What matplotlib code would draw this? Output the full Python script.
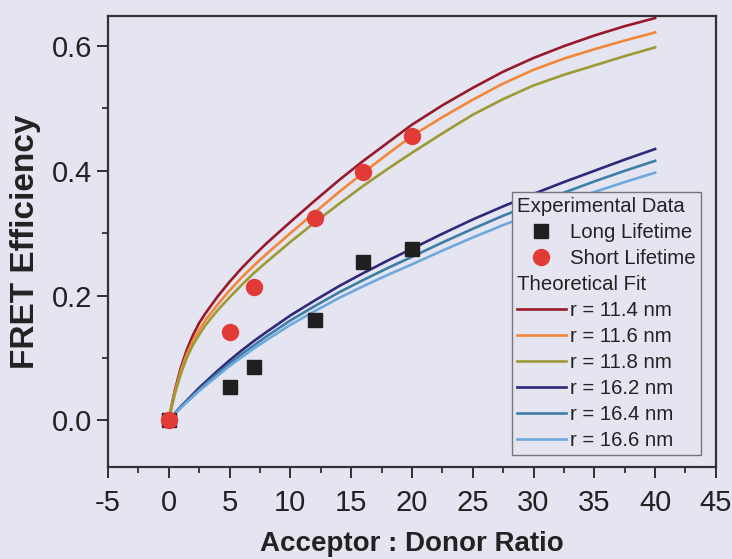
import numpy as np
from matplotlib import pyplot as plt
from matplotlib.lines import Line2D
from matplotlib.ticker import MultipleLocator

plt.rcParams['font.family'] = ['Liberation Sans', 'DejaVu Sans']
plt.rcParams['axes.unicode_minus'] = False

# experimental points
ratio_exp = [0, 5, 7, 12, 16, 20]
long_life = [0.0, 0.053, 0.086, 0.160, 0.253, 0.275]
short_life = [0.0, 0.141, 0.213, 0.325, 0.398, 0.456]

# theoretical fits
ratio_fit = [0, 0.25, 0.5, 1, 1.5, 2, 2.5, 3, 4, 5, 6, 7, 8, 10, 12, 14, 16, 18, 20,
             22.5, 25, 27.5, 30, 32.5, 35, 37.5, 40]
fit_114 = [0.0, 0.025, 0.048, 0.085, 0.114, 0.137, 0.156, 0.171, 0.198, 0.222, 0.244, 0.264, 0.283,
           0.318, 0.352, 0.385, 0.416, 0.445, 0.474, 0.505, 0.533, 0.559, 0.581, 0.600, 0.617, 0.632, 0.645]
fit_116 = [0.0, 0.023, 0.045, 0.080, 0.107, 0.128, 0.145, 0.160, 0.185, 0.208, 0.229, 0.248, 0.266,
           0.300, 0.333, 0.366, 0.397, 0.427, 0.456, 0.486, 0.514, 0.540, 0.562, 0.580, 0.595, 0.609, 0.622]
fit_118 = [0.0, 0.022, 0.042, 0.075, 0.101, 0.121, 0.137, 0.152, 0.176, 0.197, 0.217, 0.236, 0.253,
           0.286, 0.317, 0.347, 0.376, 0.403, 0.429, 0.460, 0.490, 0.515, 0.537, 0.554, 0.569, 0.584, 0.598]
fit_162 = [0.0, 0.006, 0.011, 0.022, 0.032, 0.042, 0.052, 0.061, 0.079, 0.096, 0.112, 0.127, 0.141,
           0.168, 0.192, 0.215, 0.236, 0.256, 0.275, 0.299, 0.322, 0.343, 0.363, 0.382, 0.400, 0.418, 0.435]
fit_164 = [0.0, 0.006, 0.011, 0.021, 0.031, 0.040, 0.049, 0.058, 0.075, 0.091, 0.106, 0.120, 0.134,
           0.160, 0.183, 0.205, 0.225, 0.244, 0.262, 0.285, 0.307, 0.328, 0.347, 0.365, 0.383, 0.400, 0.416]
fit_166 = [0.0, 0.005, 0.010, 0.020, 0.029, 0.038, 0.047, 0.055, 0.071, 0.087, 0.101, 0.115, 0.128,
           0.153, 0.175, 0.196, 0.215, 0.233, 0.250, 0.272, 0.293, 0.313, 0.331, 0.349, 0.366, 0.382, 0.397]

fits = [
    (fit_114, 'r = 11.4 nm', '#97192b'),
    (fit_116, 'r = 11.6 nm', '#f2873a'),
    (fit_118, 'r = 11.8 nm', '#9c9a35'),
    (fit_162, 'r = 16.2 nm', '#30287a'),
    (fit_164, 'r = 16.4 nm', '#3d7ea6'),
    (fit_166, 'r = 16.6 nm', '#6fa8dc'),
]

bg = '#e5e5f1'
fig = plt.figure(figsize=(7.32, 5.59), dpi=100, facecolor=bg)
ax = fig.add_axes([0.1475, 0.1646, 0.8305, 0.8064], facecolor=bg)

fit_lines = []
for ys, lab, col in fits:
    ln, = ax.plot(ratio_fit, ys, color=col, lw=1.9, label=lab, zorder=2)
    fit_lines.append(ln)

sq, = ax.plot(ratio_exp, long_life, 's', color='#202020', ms=10, ls='none', label='Long Lifetime', zorder=3)
ci, = ax.plot(ratio_exp, short_life, 'o', color='#e23a36', ms=11.5, ls='none', label='Short Lifetime', zorder=4)

ax.set_xlim(-5, 45)
ax.set_ylim(-0.075, 0.648)
ax.xaxis.set_major_locator(MultipleLocator(5))
ax.xaxis.set_minor_locator(MultipleLocator(2.5))
ax.yaxis.set_major_locator(MultipleLocator(0.2))
ax.yaxis.set_minor_locator(MultipleLocator(0.1))
ax.yaxis.set_major_formatter(plt.FormatStrFormatter('%.1f'))
ax.tick_params(which='major', direction='out', length=8, width=1.3, labelsize=21, colors='#222222')
ax.tick_params(which='minor', direction='out', length=4, width=1.2, colors='#222222')
ax.tick_params(axis='x', pad=8)
for s in ax.spines.values():
    s.set_linewidth(1.6)
    s.set_color('#333333')

ax.set_xlabel('Acceptor : Donor Ratio', fontsize=20, fontweight='bold', color='#222222', labelpad=10)
ax.set_ylabel('FRET Efficiency', fontsize=24, fontweight='bold', color='#222222', labelpad=8)

head1 = Line2D([], [], ls='none')
head2 = Line2D([], [], ls='none')
handles = [head1, sq, ci, head2] + fit_lines
labels = ['Experimental Data', 'Long Lifetime', 'Short Lifetime', 'Theoretical Fit'] + [f[1] for f in fits]
leg = ax.legend(handles, labels, loc='lower right', bbox_to_anchor=(0.975, 0.027), borderaxespad=0,
                fontsize=14.7, labelspacing=0.34, handlelength=2.4, handletextpad=0.2,
                borderpad=0.25, fancybox=False, facecolor=bg, edgecolor='#777777', framealpha=1)
leg.get_frame().set_linewidth(1.0)
for t in leg.get_texts():
    t.set_color('#222222')

# drop the handle area of the two header rows so they sit at the left edge
for col in leg._legend_handle_box.get_children():
    for row in col.get_children():
        kids = row.get_children()
        if kids[-1].get_children()[0].get_text() in ('Experimental Data', 'Theoretical Fit'):
            kids.pop(0)

fig.savefig('out.png', dpi=100, facecolor=bg)
